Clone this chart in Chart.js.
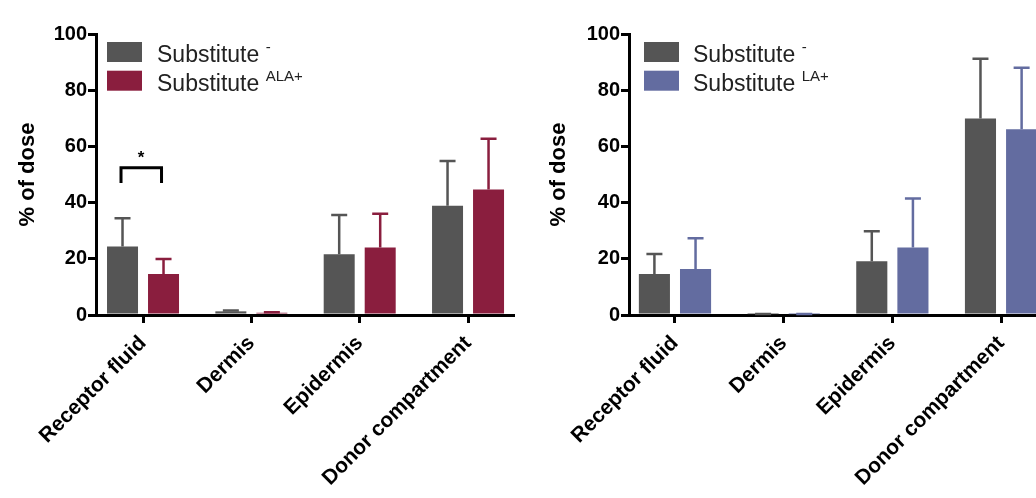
<!DOCTYPE html>
<html>
<head>
<meta charset="utf-8">
<script src="https://cdn.jsdelivr.net/npm/chart.js@4.4.0/dist/chart.umd.min.js"></script>
<style>
  html, body { margin: 0; padding: 0; background: #fff; }
  body { width: 1036px; height: 498px; position: relative; overflow: hidden; }
  .panel { position: absolute; top: 0; width: 520px; height: 498px; }
  #left { left: 0; }
  #right { left: 530px; }
</style>
</head>
<body>
<div class="panel" id="left"><canvas id="chartLeft" width="520" height="498"></canvas></div>
<div class="panel" id="right"><canvas id="chartRight" width="520" height="498"></canvas></div>
<script>
const FONT = "'Liberation Sans', Arial, Helvetica, sans-serif";

// data
const categories = ["Receptor fluid", "Dermis", "Epidermis", "Donor compartment"];
const yTicks = [0, 20, 40, 60, 80, 100];

const leftControl = [24.4, 1.3, 21.6, 38.9];
const leftControlErr = [10.0, 0.3, 14.0, 15.9];
const leftAla = [14.6, 0.8, 24.0, 44.7];
const leftAlaErr = [5.3, 0.2, 12.0, 18.0];

const rightControl = [14.6, 0.3, 19.1, 69.9];
const rightControlErr = [7.1, 0.1, 10.7, 21.3];
const rightLa = [16.4, 0.3, 24.0, 66.1];
const rightLaErr = [10.9, 0.1, 17.5, 21.9];

const GREY = "#555555";
const RED = "#8a1e3e";
const BLUE = "#636ca0";

// error bars (upper only, like Prism)
const errorBarsPlugin = {
  id: "errorBars",
  afterDatasetsDraw(chart) {
    const ctx = chart.ctx;
    const yScale = chart.scales.y;
    chart.data.datasets.forEach((ds, di) => {
      const meta = chart.getDatasetMeta(di);
      meta.data.forEach((bar, i) => {
        const top = yScale.getPixelForValue(ds.data[i].y + ds.errors[i]);
        ctx.save();
        ctx.strokeStyle = ds.backgroundColor;
        ctx.lineWidth = 2.5;
        ctx.beginPath();
        ctx.moveTo(bar.x, bar.y);
        ctx.lineTo(bar.x, top);
        ctx.moveTo(bar.x - 8, top);
        ctx.lineTo(bar.x + 8, top);
        ctx.stroke();
        ctx.restore();
      });
    });
  }
};

// legend with superscripts
const supLegendPlugin = {
  id: "supLegend",
  afterDraw(chart, args, opts) {
    const ctx = chart.ctx;
    const left = chart.chartArea.left + opts.offsetX;
    chart.data.datasets.forEach((ds, i) => {
      const top = chart.chartArea.top + opts.offsetY + i * opts.rowGap;
      ctx.save();
      ctx.fillStyle = ds.backgroundColor;
      ctx.fillRect(left, top, opts.boxWidth, opts.boxHeight);
      ctx.fillStyle = "#222";
      ctx.textBaseline = "alphabetic";
      ctx.textAlign = "left";
      ctx.font = "23px " + FONT;
      const tx = left + opts.boxWidth + opts.textGap;
      const base = top + opts.boxHeight;
      ctx.fillText(ds.label, tx, base);
      const w = ctx.measureText(ds.label + " ").width;
      ctx.font = "15px " + FONT;
      ctx.fillText(ds.sup, tx + w, base - 10);
      ctx.restore();
    });
  }
};

// significance bracket between the two bars of one category
const sigPlugin = {
  id: "sig",
  afterDraw(chart, args, opts) {
    if (!opts || opts.category === undefined) return;
    const ctx = chart.ctx;
    const yScale = chart.scales.y;
    const a = chart.getDatasetMeta(0).data[opts.category];
    const b = chart.getDatasetMeta(1).data[opts.category];
    const yTop = yScale.getPixelForValue(opts.level);
    const yLeg = yScale.getPixelForValue(opts.leg);
    ctx.save();
    ctx.strokeStyle = "#000";
    ctx.lineWidth = 3;
    ctx.beginPath();
    ctx.moveTo(a.x - 1.5, yLeg);
    ctx.lineTo(a.x - 1.5, yTop);
    ctx.lineTo(b.x - 2, yTop);
    ctx.lineTo(b.x - 2, yLeg);
    ctx.stroke();
    ctx.fillStyle = "#000";
    ctx.font = "bold 17px " + FONT;
    ctx.textAlign = "center";
    ctx.textBaseline = "middle";
    ctx.fillText(opts.text, (a.x + b.x) / 2 - 2, yScale.getPixelForValue(opts.starLevel));
    ctx.restore();
  }
};

function makePanel(canvasId, cfg) {
  return new Chart(document.getElementById(canvasId), {
    type: "bar",
    data: {
      datasets: cfg.series.map(s => ({
        label: s.label,
        sup: s.sup,
        errors: s.errors,
        data: s.values.map((v, i) => ({ x: i, y: v })),
        backgroundColor: s.color,
        borderWidth: 0,
        categoryPercentage: 0.757,
        barPercentage: 0.756
      }))
    },
    options: {
      responsive: false,
      animation: false,
      devicePixelRatio: 1,
      layout: { padding: { top: 34, right: cfg.padRight, left: 0, bottom: 0 } },
      plugins: {
        legend: { display: false },
        tooltip: { enabled: false },
        supLegend: cfg.legend,
        sig: cfg.sig || {}
      },
      scales: {
        x: {
          type: "linear",
          min: cfg.xMin,
          max: cfg.xMax,
          offset: false,
          afterBuildTicks: scale => {
            scale.ticks = categories.map((c, i) => ({ value: i }));
          },
          afterFit: scale => { scale.height = 183; },
          ticks: {
            autoSkip: false,
            minRotation: 45,
            maxRotation: 45,
            padding: 8,
            color: "#000",
            font: { family: FONT, size: 21, weight: "bold" },
            callback: value => categories[Math.round(value)]
          },
          grid: {
            offset: false,
            drawOnChartArea: false,
            drawTicks: true,
            tickLength: 8,
            lineWidth: 3,
            color: "#000"
          },
          border: { display: true, color: "#000", width: 3 }
        },
        y: {
          min: 0,
          max: 100,
          afterBuildTicks: scale => {
            scale.ticks = yTicks.map(v => ({ value: v }));
          },
          afterFit: scale => { scale.width = cfg.yWidth; },
          ticks: {
            padding: 1,
            color: "#000",
            font: { family: FONT, size: 20, weight: "bold" }
          },
          grid: {
            drawOnChartArea: false,
            drawTicks: true,
            tickLength: 8,
            lineWidth: 3,
            color: "#000"
          },
          border: { display: true, color: "#000", width: 3 },
          title: {
            display: true,
            text: "% of dose",
            color: "#000",
            padding: { top: cfg.titlePad, bottom: 0 },
            font: { family: FONT, size: 22, weight: "bold" }
          }
        }
      }
    },
    plugins: [errorBarsPlugin, supLegendPlugin, sigPlugin]
  });
}

makePanel("chartLeft", {
  series: [
    { label: "Substitute", sup: "-", values: leftControl, errors: leftControlErr, color: GREY },
    { label: "Substitute", sup: "ALA+", values: leftAla, errors: leftAlaErr, color: RED }
  ],
  xMin: -0.434,
  xMax: 3.415,
  yWidth: 96,
  padRight: 7,
  titlePad: 15,
  legend: { offsetX: 11, offsetY: 8, rowGap: 28.7, boxWidth: 35, boxHeight: 20, textGap: 15 },
  sig: { category: 0, level: 52.4, leg: 47, starLevel: 55.8, text: "*" }
});

makePanel("chartRight", {
  series: [
    { label: "Substitute", sup: "-", values: rightControl, errors: rightControlErr, color: GREY },
    { label: "Substitute", sup: "LA+", values: rightLa, errors: rightLaErr, color: BLUE }
  ],
  xMin: -0.423,
  xMax: 3.386,
  yWidth: 99,
  padRight: 7,
  titlePad: 16,
  legend: { offsetX: 15, offsetY: 8, rowGap: 28.7, boxWidth: 35, boxHeight: 20, textGap: 14 }
});
</script>
</body>
</html>
